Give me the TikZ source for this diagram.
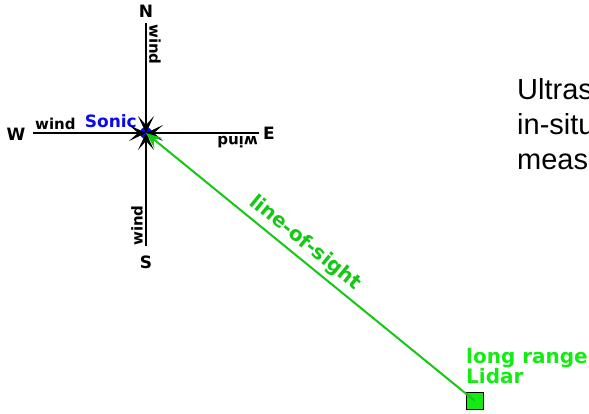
\documentclass[tikz,border=0pt]{standalone}
\usepackage{fontspec}
\setmainfont{DejaVu Sans}
\newfontfamily\helv{Liberation Sans}
\usetikzlibrary{arrows.meta}
\definecolor{losgreen}{RGB}{20,200,20}
\definecolor{lblgreen}{RGB}{20,235,20}
\definecolor{sonicblue}{RGB}{10,10,235}
\tikzset{
  windarrow/.style={line width=2.2pt,-{Stealth[length=17pt,width=16pt,inset=9pt]}},
  compass/.style={font=\bfseries\fontsize{17}{17}\selectfont,inner sep=0pt},
  windlbl/.style={font=\bfseries\fontsize{15}{15}\selectfont,inner sep=0pt},
  greenlbl/.style={font=\bfseries\fontsize{20}{15.5}\selectfont,text=lblgreen,inner sep=0pt,align=left},
}
\begin{document}
\begin{tikzpicture}[x=1pt,y=-1pt]
\useasboundingbox (0,0) rectangle (589,413);
\coordinate (C) at (146,133);
\coordinate (Nend) at (146,23);
\coordinate (Send) at (146,246);
\coordinate (Wend) at (33,133);
\coordinate (Eend) at (259,133);
\node[compass] (N) at (146,11) {N};
\node[compass] (S) at (146,262) {S};
\node[compass] (W) at (16,134) {W};
\node[compass] (E) at (269,133) {E};
\node[windlbl,anchor=south west] (wW) at (35,130) {wind};
\node[windlbl,rotate=180,anchor=south west] (wE) at (258,136) {wind};
\node[windlbl,rotate=-90,anchor=south west] (wN) at (149,24) {wind};
\node[windlbl,rotate=90,anchor=south west] (wS) at (143,246) {wind};
\node[circle,fill=sonicblue,minimum size=12pt,inner sep=0pt] (sonic) at (C) {};
\node[font=\bfseries\fontsize{17}{17}\selectfont,text=sonicblue,anchor=base east,inner sep=0pt] (sl) at (137,127) {Sonic};
\draw[windarrow] (Nend) -- (C);
\draw[windarrow] (Send) -- (C);
\draw[windarrow] (Wend) -- (C);
\draw[windarrow] (Eend) -- (C);
\node[draw=black,line width=1.6pt,fill=lblgreen,minimum size=17pt,inner sep=0pt] (lidar) at (475,401) {};
\draw[losgreen,line width=2pt,-{Stealth[length=16pt,width=13pt,inset=6pt]}] (lidar.center) -- (C);
\node[greenlbl,text=losgreen,rotate=-39.1,anchor=south,inner sep=0pt] (los) at (299,251) {line-of-sight};
\node[greenlbl,anchor=south west] (ll) at (466,384) {long range\\Lidar};
\node[font=\helv\fontsize{29}{35}\selectfont,anchor=north west,align=left,inner sep=0pt] (txt) at (517,78) {Ultrasonic\\in-situ\\measurement};
\end{tikzpicture}
\end{document}
